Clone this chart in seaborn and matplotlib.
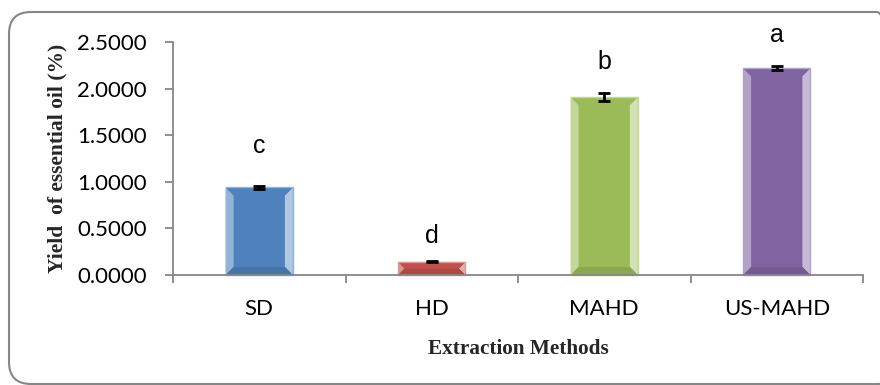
import matplotlib
matplotlib.use("Agg")
import matplotlib.pyplot as plt
import matplotlib.transforms as mtransforms
from matplotlib.patches import FancyBboxPatch, Polygon
from matplotlib.ticker import FixedLocator, FormatStrFormatter
import matplotlib.colors as mcolors
import seaborn as sns
import pandas as pd

# Yield of essential oil by extraction method
methods = ["SD", "HD", "MAHD", "US-MAHD"]
yield_pct = [0.94, 0.14, 1.91, 2.22]
yield_err = [0.02, 0.005, 0.04, 0.025]
groups = ["c", "d", "b", "a"]

bar_colors = ["#4F81BD", "#C0504D", "#9BBB59", "#8064A2"]
letter_gap = [0.44, 0.28, 0.38, 0.36]

sns.set_theme(style="white")
plt.rcParams["font.family"] = ["Lato", "DejaVu Sans"]

fig = plt.figure(figsize=(8.8, 3.85), dpi=100)
ax = fig.add_axes([173 / 880, 1 - 275 / 385, (863 - 173) / 880, (275 - 42) / 385])

df = pd.DataFrame({"method": methods, "yield": yield_pct})
sns.barplot(data=df, x="method", y="yield", hue="method", palette=bar_colors,
            width=0.39, legend=False, ax=ax, saturation=1, linewidth=0)

ax.set_xlim(-0.5, len(methods) - 0.5)
ax.set_ylim(0, 2.5)
ax.set_autoscale_on(False)
ax.yaxis.set_major_locator(FixedLocator([0, 0.5, 1.0, 1.5, 2.0, 2.5]))
ax.yaxis.set_major_formatter(FormatStrFormatter("%.4f"))

# bevelled look on each bar, built from the bar geometry in pixel space
fig.canvas.draw()
pix = mtransforms.IdentityTransform()
for patch, col in zip(list(ax.patches), bar_colors):
    bb = patch.get_window_extent()
    x0, y0, x1, y1 = bb.x0, bb.y0, bb.x1, bb.y1
    b = min(8, (y1 - y0) / 2)
    base = mcolors.to_rgb(col)
    lighter = tuple(c + (1 - c) * 0.4 for c in base)
    lightest = tuple(c + (1 - c) * 0.55 for c in base)
    darker = tuple(c * 0.9 for c in base)
    shapes = [
        ([(x0, y0), (x0 + b, y0 + b), (x0 + b, y1 - b), (x0, y1)], lighter),
        ([(x1, y0), (x1 - b, y0 + b), (x1 - b, y1 - b), (x1, y1)], lightest),
        ([(x0, y0), (x1, y0), (x1 - b, y0 + b), (x0 + b, y0 + b)], darker),
        ([(x0, y1), (x1, y1), (x1 - b, y1 - b), (x0 + b, y1 - b)], base),
    ]
    for pts, fc in shapes:
        ax.add_artist(Polygon(pts, closed=True, facecolor=fc, edgecolor="none",
                              transform=pix, zorder=2, clip_on=False))
    ax.add_artist(Polygon([(x0, y0), (x1, y0), (x1, y1), (x0, y1)], closed=True,
                          facecolor="none", edgecolor=lighter, lw=1,
                          transform=pix, zorder=2.5, clip_on=False))

xs = range(len(methods))
ax.errorbar(xs, yield_pct, yerr=yield_err, fmt="none", ecolor="black",
            elinewidth=2, capsize=4, capthick=2, zorder=5)

for x, v, g, gap in zip(xs, yield_pct, groups, letter_gap):
    ax.text(x, v + gap, g, ha="center", va="center", fontsize=18,
            family=["Liberation Sans", "DejaVu Sans"], color="black", clip_on=False)

sns.despine(ax=ax)
for s in ("left", "bottom"):
    ax.spines[s].set_color("#868686")
    ax.spines[s].set_linewidth(1.3)

ax.set_xticks(list(xs))
ax.set_xticklabels(methods)
ax.xaxis.set_minor_locator(FixedLocator([-0.5, 0.5, 1.5, 2.5, 3.5]))
ax.tick_params(axis="x", which="major", length=0, pad=17, labelsize=16, colors="black")
ax.tick_params(axis="x", which="minor", bottom=True, length=6, width=1.3, color="#868686")
ax.tick_params(axis="y", which="major", left=True, length=6, width=1.3, color="#868686",
               labelsize=16, pad=13, labelcolor="black")

ax.set_xlabel("Extraction Methods", family=["Liberation Serif"], fontweight="bold",
              fontsize=15.3, labelpad=15)
ax.set_ylabel("Yield  of essential oil (%)", family=["Liberation Serif"], fontweight="bold",
              fontsize=15.5, labelpad=7)

# rounded frame around the chart area
frame = FancyBboxPatch((9, 1), 890, 372, boxstyle="round,pad=0,rounding_size=22",
                       facecolor="none", edgecolor="#868686", lw=1.5, transform=pix)
fig.patches.append(frame)

fig.savefig("out.png", dpi=100)
